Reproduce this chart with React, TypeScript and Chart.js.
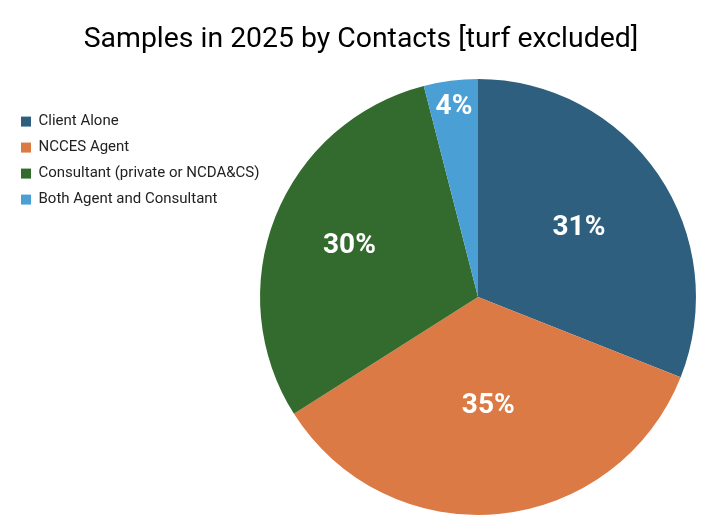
import React, { useEffect, useRef } from "react";
import { Chart, registerables } from "chart.js";

Chart.register(...registerables);

const categories = [
  "Client Alone",
  "NCCES Agent",
  "Consultant (private or NCDA&CS)",
  "Both Agent and Consultant",
];
const shares = [31, 35, 30, 4];
const colors = ["#2E5F7F", "#DB7A45", "#336B2E", "#4A9FD5"];
const titleText = "Samples in 2025 by Contacts [turf excluded]";

const sliceLabels = {
  id: "sliceLabels",
  afterDatasetsDraw(chart: any) {
    const ctx = chart.ctx;
    const meta = chart.getDatasetMeta(0);
    const data = chart.data.datasets[0].data as number[];
    const total = data.reduce((a, b) => a + b, 0);
    ctx.save();
    ctx.fillStyle = "#ffffff";
    ctx.font = "bold 28px Roboto";
    ctx.textAlign = "center";
    ctx.textBaseline = "middle";
    meta.data.forEach((arc: any, i: number) => {
      const { x, y, startAngle, endAngle, outerRadius } = arc.getProps(
        ["x", "y", "startAngle", "endAngle", "outerRadius"],
        true
      );
      const span = endAngle - startAngle;
      const mid = (startAngle + endAngle) / 2;
      const f =
        span < 0.6
          ? 0.88
          : 0.56 - 0.06 * Math.max(0, Math.sin(mid)) + 0.08 * Math.max(0, -Math.cos(mid));
      const px = x + Math.cos(mid) * outerRadius * f;
      const py = y + Math.sin(mid) * outerRadius * f;
      const pct = Math.round((data[i] / total) * 100);
      ctx.fillText(pct + "%", px, py);
    });
    ctx.restore();
  },
};

const titleShift = {
  id: "titleShift",
  afterLayout(chart: any) {
    const t = chart.titleBlock;
    if (t) {
      t.left += 8;
      t.right += 8;
    }
  },
};

export default function App() {
  const ref = useRef<HTMLCanvasElement | null>(null);
  useEffect(() => {
    document.body.style.margin = "0";
    const chart = new Chart(ref.current as HTMLCanvasElement, {
      type: "pie",
      data: {
        labels: categories,
        datasets: [
          {
            data: shares,
            backgroundColor: colors,
            borderWidth: 0,
          },
        ],
      },
      options: {
        animation: false,
        responsive: false,
        maintainAspectRatio: false,
        layout: { padding: { left: 10, right: 20, bottom: 10, top: 0 } },
        plugins: {
          title: {
            display: true,
            text: titleText,
            color: "#000000",
            font: { family: "Roboto", size: 28.4, weight: "normal", lineHeight: 1.2 },
            padding: { top: 23, bottom: 22 },
          },
          legend: {
            position: "left",
            align: "start",
            fullSize: false,
            maxWidth: 250,
            title: {
              display: true,
              text: " ",
              font: { size: 10, lineHeight: 1 },
              padding: { top: 14, bottom: 0 },
            },
            labels: {
              boxWidth: 10,
              boxHeight: 10,
              padding: 11,
              color: "#222222",
              font: { family: "Roboto", size: 15 },
            },
          },
          tooltip: { enabled: false },
        },
      },
      plugins: [sliceLabels, titleShift],
    });
    return () => chart.destroy();
  }, []);
  return (
    <div style={{ width: 716, height: 525 }}>
      <canvas ref={ref} width={716} height={525} />
    </div>
  );
}
